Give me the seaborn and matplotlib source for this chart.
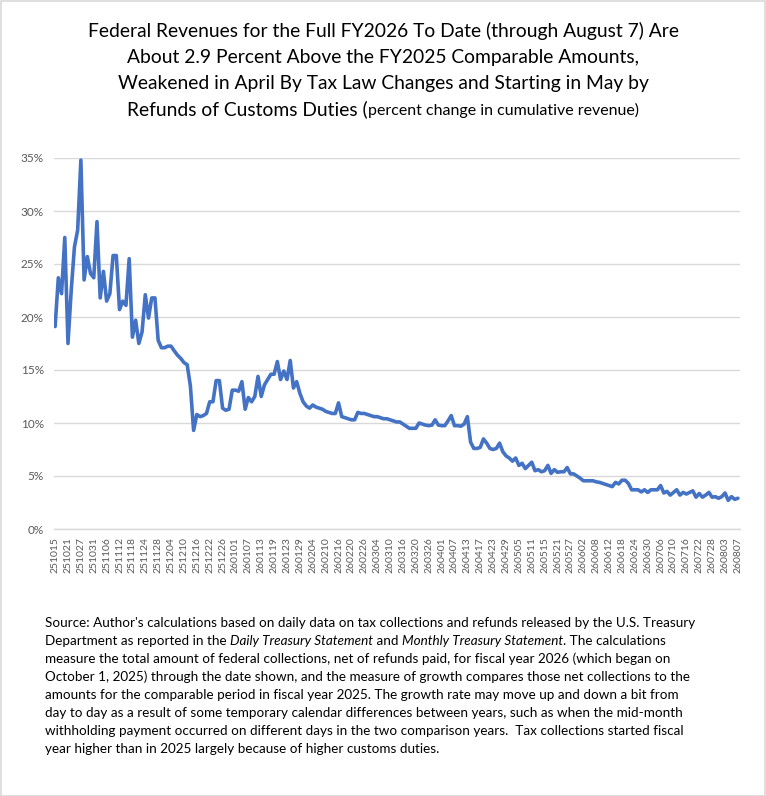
import numpy as np
import pandas as pd
import matplotlib
matplotlib.use("Agg")
import matplotlib.pyplot as plt
import seaborn as sns
from matplotlib.patches import Rectangle

# business days shown on the x axis (every weekday, holidays included)
dates = pd.bdate_range("2025-10-15", "2026-08-07")

# percent change in cumulative revenue vs FY2025, one value per weekday
oct_vals = [19.1, 23.7, 22.2, 27.5, 17.5, 22.5, 26.6, 28.2, 34.8, 23.5, 25.7, 24.1, 23.7]
nov_vals = [29.0, 21.8, 24.3, 21.5, 22.2, 25.8, 25.8, 20.7, 21.5, 21.1,
            25.5, 18.1, 19.7, 17.5, 18.6, 22.1, 19.9, 21.8, 21.8, 17.8]
dec_vals = [17.1, 17.1, 17.25, 17.25, 16.8, 16.4, 16.1, 15.7, 15.5, 13.5,
            9.3, 10.8, 10.6, 10.7, 10.9, 12.0, 12.0, 14.0, 14.0, 11.4,
            11.2, 11.3, 13.1]
jan_vals = [13.1, 13.0, 13.9, 11.3, 12.4, 12.0, 12.5, 14.4, 12.5, 13.6,
            14.1, 14.6, 14.6, 15.8, 14.1, 14.9, 14.1, 15.9, 13.3, 13.9,
            12.8, 12.0]
feb_vals = [11.6, 11.4, 11.7, 11.5, 11.4, 11.3, 11.1, 11.0, 10.9, 10.9,
            11.9, 10.6, 10.5, 10.4, 10.3, 10.3, 11.0, 10.9, 10.9, 10.8]
mar_vals = [10.7, 10.6, 10.6, 10.5, 10.4, 10.4, 10.3, 10.2, 10.1, 10.1,
            9.9, 9.7, 9.5, 9.5, 9.5, 10.0, 9.9, 9.8, 9.75, 9.8,
            10.3, 9.8]
apr_vals = [9.75, 9.75, 10.2, 10.7, 9.75, 9.75, 9.7, 9.9, 10.6, 8.2,
            7.6, 7.6, 7.7, 8.5, 8.1, 7.6, 7.5, 7.6, 8.1, 7.3,
            6.9, 6.7]
may_vals = [6.4, 6.7, 6.0, 6.2, 5.7, 6.0, 6.3, 5.5, 5.6, 5.4,
            5.5, 6.0, 5.25, 5.6, 5.35, 5.4, 5.4, 5.8, 5.2, 5.2,
            5.0]
jun_vals = [4.8, 4.55, 4.55, 4.55, 4.55, 4.45, 4.4, 4.3, 4.2, 4.1,
            4.0, 4.4, 4.25, 4.6, 4.6, 4.3, 3.7, 3.7, 3.7, 3.5,
            3.7, 3.45]
jul_vals = [3.7, 3.7, 3.7, 4.1, 3.4, 3.55, 3.2, 3.45, 3.7, 3.2,
            3.45, 3.3, 3.45, 3.6, 3.0, 3.35, 3.0, 3.2, 3.45, 3.0,
            3.05, 2.9, 3.05]
aug_vals = [3.4, 2.7, 3.05, 2.8, 2.9]

y_ticks = [0, 5, 10, 15, 20, 25, 30, 35]

title_lines = [
    "Federal Revenues for the Full FY2026 To Date (through August 7) Are",
    "About 2.9 Percent Above the FY2025 Comparable Amounts,",
    "Weakened in April By Tax Law Changes and Starting in May by",
]
title_last = ("Refunds of Customs Duties (", "percent change in cumulative revenue)")

# (text, italic) pieces for every line of the note
source_lines = [
    [("Source: Author's calculations based on daily data on tax collections and refunds released by the U.S. Treasury", False)],
    [("Department as reported in the ", False), ("Daily Treasury Statement", True), (" and ", False),
     ("Monthly Treasury Statement", True), (". The calculations", False)],
    [("measure the total amount of federal collections, net of refunds paid, for fiscal year 2026 (which began on", False)],
    [("October 1, 2025) through the date shown, and the measure of growth compares those net collections to the", False)],
    [("amounts for the comparable period in fiscal year 2025. The growth rate may move up and down a bit from", False)],
    [("day to day as a result of some temporary calendar differences between years, such as when the mid-month", False)],
    [("withholding payment occurred on different days in the two comparison years.  Tax collections started fiscal", False)],
    [("year higher than in 2025 largely because of higher customs duties.", False)],
]

values = (oct_vals + nov_vals + dec_vals + jan_vals + feb_vals + mar_vals
          + apr_vals + may_vals + jun_vals + jul_vals + aug_vals)
assert len(values) == len(dates)

df = pd.DataFrame({"pos": np.arange(len(dates)),
                   "label": dates.strftime("%y%m%d"),
                   "growth": values})

sns.set_theme(style="white")
plt.rcParams["font.family"] = ["Lato", "DejaVu Sans"]

W, H = 766, 796
fig = plt.figure(figsize=(W / 100, H / 100), dpi=100)
ax = fig.add_axes([53.5 / W, 1 - 529 / H, (739.5 - 53.5) / W, (529 - 158) / H])

sns.lineplot(data=df, x="pos", y="growth", ax=ax, color="#4472C4", linewidth=2.6)

ax.set_xlim(-0.5, len(df) - 0.5)
ax.set_ylim(0, 35)
ax.set_yticks(y_ticks)
ax.set_yticklabels([f"{t}%" for t in y_ticks])
ax.set_xticks(df["pos"][::4])
ax.set_xticklabels(df["label"][::4], rotation=90)
ax.set_xlabel("")
ax.set_ylabel("")
ax.tick_params(axis="both", length=0, colors="#595959")
ax.tick_params(axis="x", labelsize=7.5, pad=6)
ax.tick_params(axis="y", labelsize=8.5, pad=7)
ax.yaxis.grid(True, color="#D9D9D9", linewidth=1)
ax.set_axisbelow(True)
for side in ["top", "right", "left"]:
    ax.spines[side].set_visible(False)
ax.spines["bottom"].set_color("#D9D9D9")
ax.spines["bottom"].set_linewidth(1)

renderer = fig.canvas.get_renderer()

# title, centred, last line mixes two sizes
title_size = 13.9
for i, line in enumerate(title_lines):
    fig.text(0.5, 1 - (37 + 26 * i) / H, line, ha="center", va="baseline",
             fontsize=title_size, color="black")
y4 = 1 - (37 + 26 * 3) / H
t_a = fig.text(0, y4, title_last[0], ha="left", va="baseline", fontsize=title_size,
               color="black")
t_b = fig.text(0, y4, title_last[1], ha="left", va="baseline", fontsize=11.5,
               color="black")
w_a = t_a.get_window_extent(renderer).width
w_b = t_b.get_window_extent(renderer).width
x0 = (W - w_a - w_b) / 2
t_a.set_x(x0 / W)
t_b.set_x((x0 + w_a) / W)

# source note, left aligned, italic pieces placed one after another
note_size = 9.7
for i, pieces in enumerate(source_lines):
    x = 45.0
    y = 1 - (627 + 18 * i) / H
    for text, italic in pieces:
        t = fig.text(x / W, y, text, ha="left", va="baseline", fontsize=note_size,
                     style="italic" if italic else "normal", color="black")
        x += t.get_window_extent(renderer).width

fig.patches.append(Rectangle((0.5 / W, 0.5 / H), 1 - 1.5 / W, 1 - 1.5 / H,
                             transform=fig.transFigure, fill=False,
                             edgecolor="#D9D9D9", linewidth=1.2))

fig.savefig("out.png", dpi=100)
